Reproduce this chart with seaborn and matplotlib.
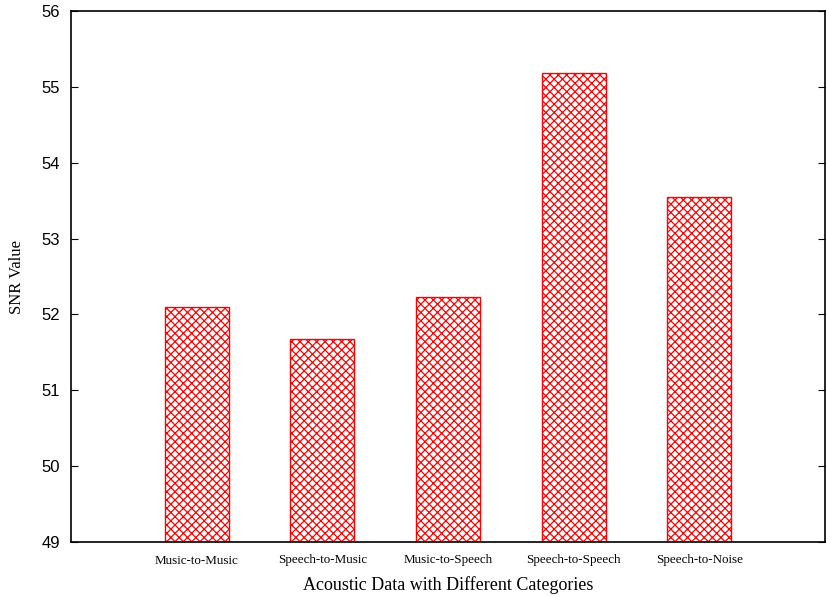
import matplotlib
matplotlib.use("Agg")
import matplotlib.pyplot as plt
import seaborn as sns
import pandas as pd

categories = ["Music-to-Music", "Speech-to-Music", "Music-to-Speech",
              "Speech-to-Speech", "Speech-to-Noise"]
snr_values = [52.10, 51.68, 52.23, 55.18, 53.55]
y_ticks = [49, 50, 51, 52, 53, 54, 55, 56]

df = pd.DataFrame({"category": categories, "snr": snr_values})

sns.set_style("ticks")
plt.rcParams["hatch.color"] = "red"
plt.rcParams["hatch.linewidth"] = 0.9
plt.rcParams["text.color"] = "black"
plt.rcParams["xtick.color"] = "black"
plt.rcParams["ytick.color"] = "black"
plt.rcParams["axes.labelcolor"] = "black"

fig = plt.figure(figsize=(8.26, 5.97), dpi=100)
ax = fig.add_axes([71 / 826, 1 - 542 / 597, 754 / 826, 531 / 597])

sns.barplot(data=df, x="category", y="snr", ax=ax, width=0.51,
            color="white", edgecolor="red", linewidth=1.0, saturation=1)
for bar in ax.patches:
    bar.set_hatch("xxxx")
    bar.set_facecolor("white")
    bar.set_edgecolor("red")

ax.set_xlim(-1, 5)
ax.set_ylim(49, 56)
ax.set_yticks(y_ticks)
ax.set_yticklabels([str(t) for t in y_ticks], family="Liberation Sans", fontsize=12)
ax.tick_params(axis="y", direction="in", length=5, width=0.8, right=True, pad=8)
ax.tick_params(axis="x", length=0, pad=9)
for lbl in ax.get_xticklabels():
    lbl.set_family("Liberation Serif")
    lbl.set_fontsize(9.4)

for s in ax.spines.values():
    s.set_visible(True)
    s.set_linewidth(1.2)
    s.set_color("black")

ax.set_xlabel("Acoustic Data with Different Categories",
              family="Liberation Serif", fontsize=13, labelpad=7)
ax.set_ylabel("SNR Value", family="Liberation Serif", fontsize=12, labelpad=12)

fig.savefig("out.png", dpi=100)
